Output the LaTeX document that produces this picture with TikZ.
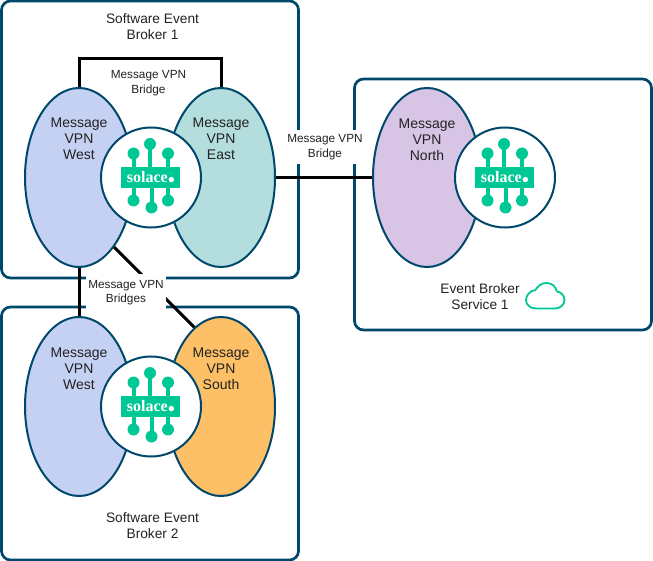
\documentclass[tikz,border=0pt]{standalone}
\usepackage{fontspec}
\setmainfont{Liberation Sans}
\newfontfamily\logofont{Liberation Serif}
\usepackage{tikz}
\usetikzlibrary{positioning,calc,shapes.geometric}

\definecolor{edgeblue}{HTML}{00486B}
\definecolor{solgreen}{HTML}{00C895}
\definecolor{inkgray}{HTML}{222222}
\definecolor{vpnwest}{HTML}{C5D1F3}
\definecolor{vpneast}{HTML}{B3DEDD}
\definecolor{vpnnorth}{HTML}{D8C5E6}
\definecolor{vpnsouth}{HTML}{FDC066}

\tikzset{
  solacelogo/.pic={
    \foreach \dotx/\doty in {-17.5/-24, -1/-33.5, 17/-24, -17.5/23, 0.5/30, 17/23} {
      \draw[solgreen, line width=4pt] (\dotx,0) -- (\dotx,\doty);
      \fill[solgreen] (\dotx,\doty) circle (6pt);
    }
    \fill[solgreen] (-30,-10.5) rectangle (29,10.5);
    \node[inner sep=0pt, text=white, font=\logofont\bfseries\fontsize{16}{16}\selectfont] at (-0.5,-0.5) {solace\kern0.8pt\raisebox{0.2pt}{\tikz\fill[white] (0,0) circle (2.7pt);}};
  },
}

\begin{document}
\begin{tikzpicture}[
    x=1pt, y=-1pt,
    node distance=34pt,
    broker/.style={rectangle, draw=edgeblue, line width=2.7pt, rounded corners=9pt,
                   minimum width=297pt, inner sep=0pt, outer sep=0pt},
    vpn/.style={ellipse, draw=edgeblue, line width=2pt, minimum width=108pt,
                minimum height=179pt, inner sep=0pt, outer sep=0pt},
    hub/.style={circle, draw=edgeblue, fill=white, line width=2pt,
                minimum size=100pt, inner sep=0pt, outer sep=0pt},
    bigtext/.style={align=center, inner sep=0pt, text=inkgray,
                    font=\fontsize{13.7}{16}\selectfont},
    vpntext/.style={align=center, inner sep=0pt, text=inkgray,
                    font=\fontsize{14}{16}\selectfont},
    linktext/.style={align=center, fill=white, text=inkgray, inner sep=0pt,
                     font=\fontsize{11.8}{14.5}\selectfont},
    link/.style={line width=3pt, black},
]
\useasboundingbox (0,0) rectangle (653,561);

% --- broker boxes ---
\node[broker, minimum height=277pt] (broker1) at (150,139.5) {};
\node[broker, minimum height=253pt] (broker2) at (150,433.5) {};
\node[broker, minimum height=251pt] (service1) at (503,204.5) {};

% --- connector anchors, drawn before the ellipses cover them ---
\coordinate (west1c) at (79,177.5);
\coordinate (east1c) at (221,177.5);
\coordinate (north1c) at (427,177.5);
\coordinate (west2c) at (79,406.5);
\coordinate (south2c) at (221,406.5);
\coordinate (bridgeL) at (79,59);
\coordinate (bridgeR) at (221,59);
\coordinate (diagTop) at (100,233);
\coordinate (diagEnd) at (215,348);

\draw[link] (west1c) -- (bridgeL) -- (bridgeR) -- (east1c);
\draw[link] (east1c) -- (north1c);
\draw[link] (west1c) -- (west2c);
\draw[link] (diagTop) -- (diagEnd);

% --- link labels ---
\node[linktext, minimum width=80pt, minimum height=38pt] (bridgesLabel) at (126,292.8) {Message VPN\\Bridges};
\node[linktext, minimum width=82pt, minimum height=32pt] (bridgeLabel) at (148.5,83.3) {Message VPN\\Bridge};
\node[linktext, minimum width=82pt, minimum height=34pt] (northLabel) at (325,147.3) {Message VPN\\Bridge};

% --- message vpns ---
\node[vpn, fill=vpnwest] (west1) at (west1c) {};
\node[vpn, fill=vpneast, right=of west1] (east1) {};
\node[vpn, fill=vpnnorth] (north1) at (north1c) {};
\node[vpn, fill=vpnwest] (west2) at (west2c) {};
\node[vpn, fill=vpnsouth, right=of west2] (south2) {};

\node[vpntext] (west1text) at (79,138.8) {Message\\VPN\\West};
\node[vpntext] (east1text) at (221,138.8) {Message\\VPN\\East};
\node[vpntext] (north1text) at (427,139.8) {Message\\VPN\\North};
\node[vpntext] (west2text) at (79,368.8) {Message\\VPN\\West};
\node[vpntext] (south2text) at (221,368.8) {Message\\VPN\\South};

% --- hubs with logo ---
\node[hub, xshift=1pt] (hub1) at ($(west1)!0.5!(east1)$) {};
\node[hub, xshift=1pt] (hub2) at ($(west2)!0.5!(south2)$) {};
\node[hub, right=78pt of north1.center, anchor=center] (hub3) {};
\pic at (hub1) {solacelogo};
\pic at (hub2) {solacelogo};
\pic at (hub3) {solacelogo};

% --- box titles ---
\node[bigtext] (broker1text) at (152.5,26.8) {Software Event\\Broker 1};
\node[bigtext] (broker2text) at (152.5,526) {Software Event\\Broker 2};
\node[bigtext] (service1text) at (480,296.8) {Event Broker\\Service 1};

% cloud icon
\draw[solgreen, line width=1.8pt, line join=round]
  (536,308.5) -- (555,308.5)
  .. controls (560.5,308.5) and (564.5,304.5) .. (564.5,300)
  .. controls (564.5,295.5) and (561,292) .. (557,291.5)
  .. controls (555.5,286) and (551.5,283) .. (546.5,283)
  .. controls (541,283) and (537.5,286.5) .. (535.5,290)
  .. controls (530,290.5) and (526,295.5) .. (526,300)
  .. controls (526,305) and (530.5,308.5) .. (536,308.5) -- cycle;

\end{tikzpicture}
\end{document}
